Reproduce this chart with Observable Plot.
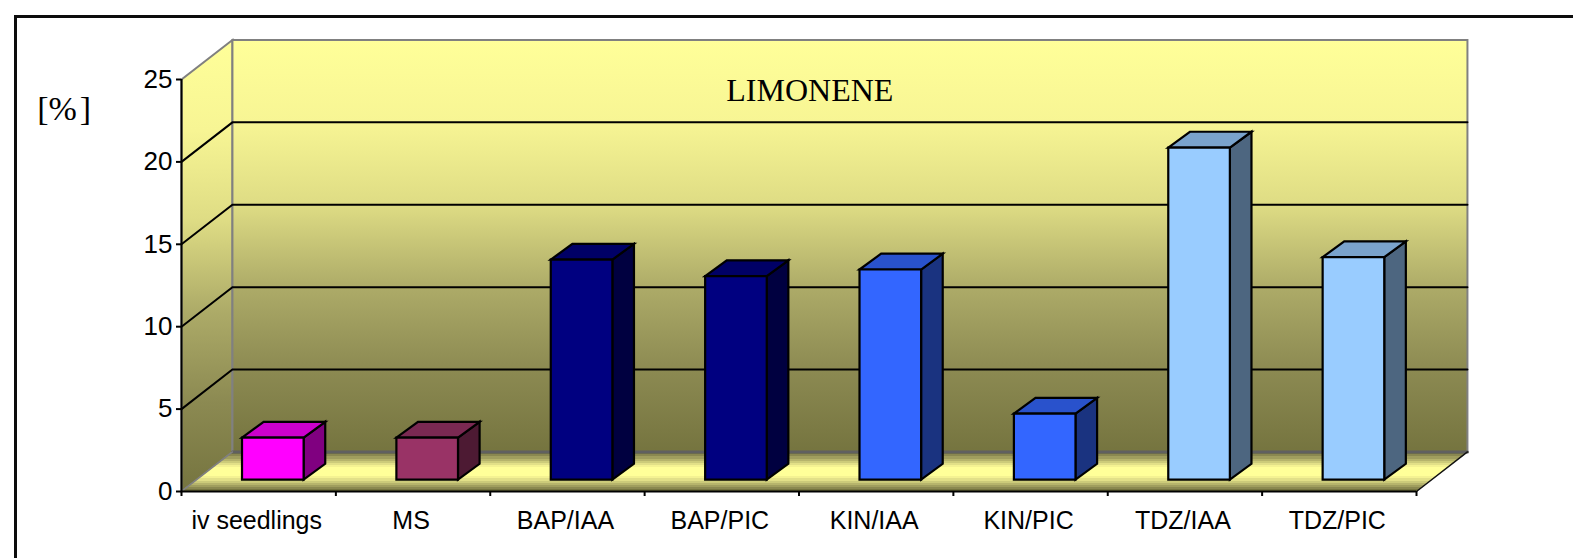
<!DOCTYPE html>
<html><head><meta charset="utf-8">
<script src="https://cdn.jsdelivr.net/npm/d3@7"></script>
<script src="https://cdn.jsdelivr.net/npm/@observablehq/plot@0.6"></script>
<style>
html,body{margin:0;padding:0;background:#fff}
#wrap{position:relative;width:1573px;height:558px;overflow:hidden}
#edge{position:absolute;left:14px;top:15px;right:-10px;bottom:-10px;border-top:3px solid #0c0c0c;border-left:3px solid #0c0c0c}
#wrap svg{position:absolute;left:0;top:0}
</style></head><body><div id="wrap"><div id="edge"></div></div>
<script>
const categories = ["iv seedlings","MS","BAP/IAA","BAP/PIC","KIN/IAA","KIN/PIC","TDZ/IAA","TDZ/PIC"];
const values = [2.55,2.55,13.35,12.35,12.75,4.0,20.15,13.5];
const frontColors = ["#FF00FF","#993366","#000080","#000080","#3366FF","#3366FF","#99CCFF","#99CCFF"];
const topColors   = ["#CC00CC","#7A2952","#000066","#000066","#2952CC","#2952CC","#7AA3CC","#7AA3CC"];
const sideColors  = ["#800080","#4D1A33","#000040","#000040","#1A3380","#1A3380","#4D6680","#4D6680"];
const yTicks = [0,5,10,15,20,25];
const gridValues = [5,10,15,20];
const floorBands = ["#75743F","#8A8850","#A09E5E","#B6B46C","#CCCB7A","#E2E088","#F4F292","#FFFF99"];

// oblique projection: depth d (0 front .. 1 back) shifts a point in data units
const DX = 0.33, DY = 2.4;
const P = (cat, val, d) => ({x: cat + d*DX, y: val + d*DY});
const poly = (pts, o) => Plot.line(pts, {x:"x", y:"y", curve:"linear-closed", strokeLinejoin:"miter", strokeMiterlimit:10, ...o});
const path = (pts, o) => Plot.line(pts, {x:"x", y:"y", strokeLinejoin:"miter", strokeMiterlimit:10, ...o});

const n = categories.length, maxV = 25;
const defs = () => {
  const s = d3.create("svg:defs");
  const wall = s.append("linearGradient").attr("id","wall").attr("x1",0).attr("y1",0).attr("x2",0).attr("y2",1);
  [[0,"#FFFF99"],[0.2,"#F7F594"],[0.4,"#DEDC84"],[0.6,"#ADAB68"],[0.8,"#8C8A52"],[1,"#75743F"]].forEach(([o,c]) =>
    wall.append("stop").attr("offset",o).attr("stop-color",c));
  const fl = s.append("linearGradient").attr("id","floor").attr("x1",0).attr("y1",0).attr("x2",0).attr("y2",1);
  const seq = [...floorBands, ...floorBands.slice(0,-1).reverse()];
  const weights = seq.map((c,i)=> c==="#FFFF99" ? 4 : 1);
  const total = d3.sum(weights);
  let acc = 0;
  seq.forEach((c,i)=>{
    fl.append("stop").attr("offset",acc/total).attr("stop-color",c);
    acc += weights[i];
    fl.append("stop").attr("offset",acc/total).attr("stop-color",c);
  });
  return s.node();
};

const marks = [
  defs,
  poly([P(0,0,0),P(0,maxV,0),P(0,maxV,1),P(0,0,1)], {fill:"url(#wall)", stroke:"#808080", strokeWidth:2}),
  poly([P(0,0,1),P(0,maxV,1),P(n,maxV,1),P(n,0,1)], {fill:"url(#wall)", stroke:"#808080", strokeWidth:2}),
  poly([P(0,0,0),P(n,0,0),P(n,0,1),P(0,0,1)], {fill:"url(#floor)"}),
  path([P(0,0,1),P(n,0,1)], {stroke:"#606060", strokeWidth:3}),
  path([P(0,0,0),P(0,0,1)], {stroke:"#808080", strokeWidth:1.5}),
  path([P(n,0,0),P(n,0,1)], {stroke:"#111", strokeWidth:1.5}),
  ...gridValues.map(v => path([P(0,v,0),P(0,v,1),P(n,v,1)], {stroke:"#000", strokeWidth:2})),
];
const backShift = 0.008;
categories.forEach((c,i) => {
  const v = values[i], a = i+0.293, b = i+0.692, d0 = 0.3, d1 = 0.7;
  const a2 = a+backShift, b2 = b+backShift;
  const o = {stroke:"#000", strokeWidth:2.2};
  const base = 0;
  marks.push(
    poly([P(b,base,d0),P(b,v,d0),P(b2,v,d1),P(b2,base,d1)], {fill:sideColors[i], ...o}),
    poly([P(a,v,d0),P(b,v,d0),P(b2,v,d1),P(a2,v,d1)], {fill:topColors[i], ...o}),
    poly([P(a,base,d0),P(b,base,d0),P(b,v,d0),P(a,v,d0)], {fill:frontColors[i], ...o})
  );
});
marks.push(
  Plot.ruleX([0], {y1:0, y2:maxV, stroke:"#000", strokeWidth:2}),
  Plot.ruleY([0], {x1:0, x2:n, stroke:"#000", strokeWidth:2}),
  Plot.axisY({ticks:yTicks, tickSize:5, tickPadding:4, label:null, fontSize:26, stroke:"#000", strokeWidth:2, tickFormat:d=>String(d), fill:"#000"}),
  Plot.axisX({ticks:d3.range(n+1), tickSize:5, tickFormat:()=>"", label:null, stroke:"#000", strokeWidth:2}),
  Plot.axisX({ticks:categories.map((c,i)=>i+0.5), tickSize:0, tickPadding:20, dx:-2, label:null, fontSize:25, fill:"#000", tickFormat:d=>categories[Math.floor(d)]}),
  Plot.text(["LIMONENE"], {x:[4.07], y:[24.33], text:d=>d, fontFamily:"Liberation Serif", fontSize:32, fill:"#000"}),
  Plot.text(["[%\u200A]"], {x:[-0.76], y:[23.22], text:d=>d, fontFamily:"Liberation Serif", fontSize:34, fill:"#000"})
);

const chart = Plot.plot({
  width:1573, height:558,
  marginLeft:181, marginRight:157, marginTop:79, marginBottom:67,
  x:{type:"linear", domain:[0,n]},
  y:{type:"linear", domain:[0,maxV]},
  style:{fontFamily:"Liberation Sans", background:"transparent", overflow:"visible"},
  marks
});
document.getElementById("wrap").appendChild(chart);
</script></body></html>
